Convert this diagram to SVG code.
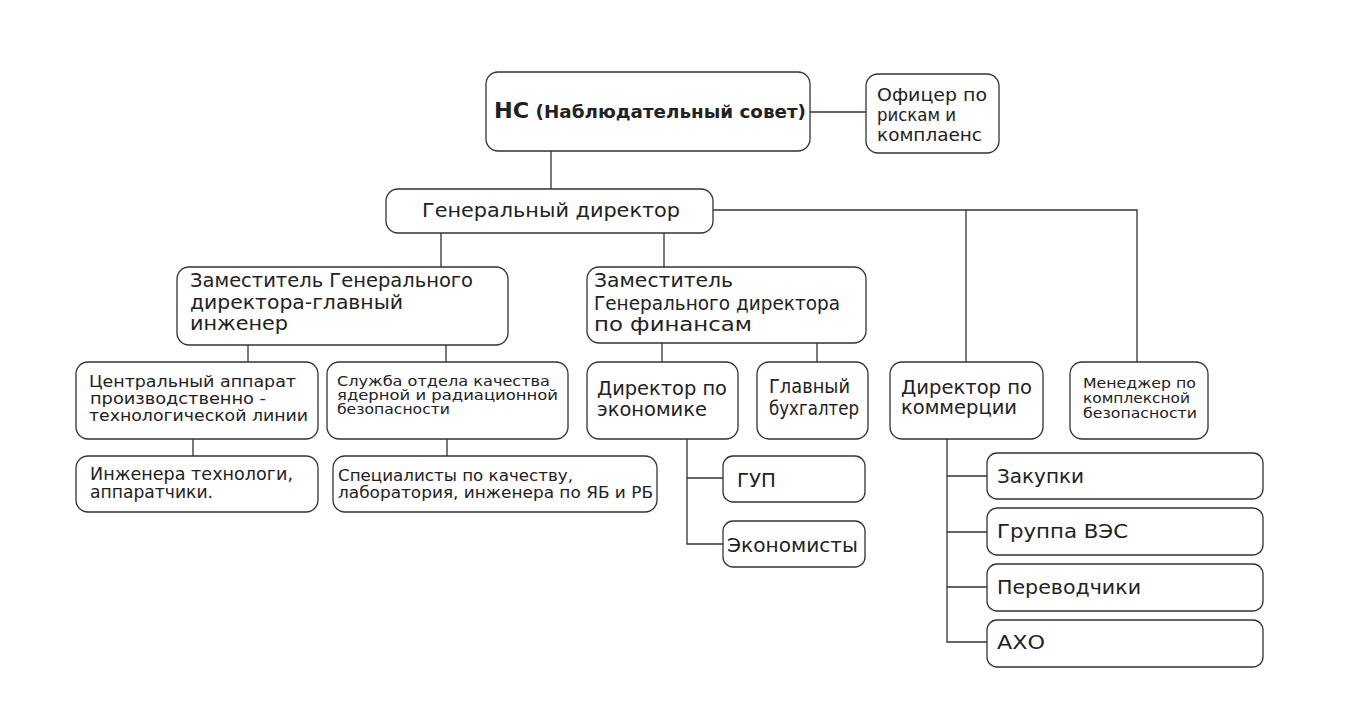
<svg xmlns="http://www.w3.org/2000/svg" width="1372" height="722" viewBox="0 0 1372 722">
<style>
.box{fill:#fff;stroke:#333;stroke-width:1.3}
.ln{fill:none;stroke:#333;stroke-width:1.3}
text{font-family:"DejaVu Sans","Liberation Sans",sans-serif;fill:#222}
.s19{font-size:19px}
.s17{font-size:17px}
.s16{font-size:16px}
.s15{font-size:15px}
.s14{font-size:14px}
.s13{font-size:13.5px}
.s20{font-size:20px}
</style>
<rect width="1372" height="722" fill="#fff"/>
<g id="connectors">
<path class="ln" d="M810 112H866"/>
<path class="ln" d="M551 151V189"/>
<path class="ln" d="M713 210H1137V362M966 210V362"/>
<path class="ln" d="M441 233V267M664 233V267"/>
<path class="ln" d="M248 345V362M446 345V362"/>
<path class="ln" d="M193 439V456M447 439V456"/>
<path class="ln" d="M662 343V362M817 343V362"/>
<path class="ln" d="M687 439V544H723M687 478H723"/>
<path class="ln" d="M947 439V642H987M947 476H987M947 532H987M947 587H987"/>
</g>
<g id="hc">
<rect class="box" x="486" y="72" width="324" height="79" rx="12"/>
<text x="494" y="118" font-weight="bold" textLength="312" lengthAdjust="spacingAndGlyphs"><tspan font-size="22">НС</tspan><tspan font-size="18"> (Наблюдательный совет)</tspan></text>
</g>
<g id="officer">
<rect class="box" x="866" y="74" width="133" height="79" rx="12"/>
<text class="s17" x="877" y="101" textLength="110" lengthAdjust="spacingAndGlyphs">Офицер по</text>
<text class="s17" x="877" y="121" textLength="79" lengthAdjust="spacingAndGlyphs">рискам и</text>
<text class="s17" x="877" y="141" textLength="105" lengthAdjust="spacingAndGlyphs">комплаенс</text>
</g>
<g id="gd">
<rect class="box" x="386" y="189" width="327" height="44" rx="12"/>
<text class="s20" x="422" y="217" textLength="258" lengthAdjust="spacingAndGlyphs">Генеральный директор</text>
</g>
<g id="zam-inzh">
<rect class="box" x="177" y="267" width="331" height="78" rx="12"/>
<text class="s19" x="190" y="287" textLength="283" lengthAdjust="spacingAndGlyphs">Заместитель Генерального</text>
<text class="s19" x="190" y="309" textLength="213" lengthAdjust="spacingAndGlyphs">директора-главный</text>
<text class="s19" x="190" y="330" textLength="98" lengthAdjust="spacingAndGlyphs">инженер</text>
</g>
<g id="zam-fin">
<rect class="box" x="587" y="267" width="279" height="76" rx="12"/>
<text class="s19" x="594" y="287" textLength="139" lengthAdjust="spacingAndGlyphs">Заместитель</text>
<text class="s19" x="594" y="310" textLength="246" lengthAdjust="spacingAndGlyphs">Генерального директора</text>
<text class="s19" x="594" y="331" textLength="158" lengthAdjust="spacingAndGlyphs">по финансам</text>
</g>
<g id="central">
<rect class="box" x="76" y="362" width="242" height="77" rx="12"/>
<text class="s16" x="89" y="387" textLength="207" lengthAdjust="spacingAndGlyphs">Центральный аппарат</text>
<text class="s16" x="90" y="404" textLength="176" lengthAdjust="spacingAndGlyphs">производственно -</text>
<text class="s16" x="89" y="421" textLength="219" lengthAdjust="spacingAndGlyphs">технологической линии</text>
</g>
<g id="sluzhba">
<rect class="box" x="327" y="362" width="241" height="77" rx="12"/>
<text class="s13" x="337" y="386" textLength="213" lengthAdjust="spacingAndGlyphs">Служба отдела качества</text>
<text class="s13" x="337" y="400" textLength="221" lengthAdjust="spacingAndGlyphs">ядерной и радиационной</text>
<text class="s13" x="337" y="414" textLength="113" lengthAdjust="spacingAndGlyphs">безопасности</text>
</g>
<g id="inzhenera">
<rect class="box" x="76" y="456" width="242" height="56" rx="12"/>
<text class="s17" x="90" y="480" textLength="203" lengthAdjust="spacingAndGlyphs">Инженера технологи,</text>
<text class="s17" x="90" y="498" textLength="123" lengthAdjust="spacingAndGlyphs">аппаратчики.</text>
</g>
<g id="specialisty">
<rect class="box" x="333" y="456" width="324" height="56" rx="12"/>
<text class="s15" x="338" y="481" textLength="235" lengthAdjust="spacingAndGlyphs">Специалисты по качеству,</text>
<text class="s15" x="338" y="498" textLength="315" lengthAdjust="spacingAndGlyphs">лаборатория, инженера по ЯБ и РБ</text>
</g>
<g id="dir-econ">
<rect class="box" x="587" y="362" width="151" height="77" rx="12"/>
<text class="s19" x="597" y="395" textLength="130" lengthAdjust="spacingAndGlyphs">Директор по</text>
<text class="s19" x="597" y="416" textLength="110" lengthAdjust="spacingAndGlyphs">экономике</text>
</g>
<g id="glav-buh">
<rect class="box" x="757" y="362" width="111" height="77" rx="12"/>
<text class="s19" x="769" y="393" textLength="81" lengthAdjust="spacingAndGlyphs">Главный</text>
<text class="s19" x="769" y="415" textLength="90" lengthAdjust="spacingAndGlyphs">бухгалтер</text>
</g>
<g id="gup">
<rect class="box" x="723" y="456" width="142" height="46" rx="10"/>
<text class="s19" x="737" y="487" textLength="39" lengthAdjust="spacingAndGlyphs">ГУП</text>
</g>
<g id="economisty">
<rect class="box" x="723" y="521" width="142" height="46" rx="10"/>
<text class="s19" x="727" y="552" textLength="131" lengthAdjust="spacingAndGlyphs">Экономисты</text>
</g>
<g id="dir-kom">
<rect class="box" x="890" y="362" width="153" height="77" rx="12"/>
<text class="s19" x="901" y="394" textLength="131" lengthAdjust="spacingAndGlyphs">Директор по</text>
<text class="s19" x="901" y="414" textLength="116" lengthAdjust="spacingAndGlyphs">коммерции</text>
</g>
<g id="menedzher">
<rect class="box" x="1070" y="362" width="138" height="77" rx="12"/>
<text class="s14" x="1083" y="388" textLength="113" lengthAdjust="spacingAndGlyphs">Менеджер по</text>
<text class="s14" x="1083" y="403" textLength="107" lengthAdjust="spacingAndGlyphs">комплексной</text>
<text class="s14" x="1083" y="418" textLength="114" lengthAdjust="spacingAndGlyphs">безопасности</text>
</g>
<g id="zakupki">
<rect class="box" x="987" y="453" width="276" height="46" rx="10"/>
<text class="s19" x="997" y="483" textLength="87" lengthAdjust="spacingAndGlyphs">Закупки</text>
</g>
<g id="ves">
<rect class="box" x="987" y="508" width="276" height="47" rx="10"/>
<text class="s19" x="997" y="538" textLength="131" lengthAdjust="spacingAndGlyphs">Группа ВЭС</text>
</g>
<g id="perevodchiki">
<rect class="box" x="987" y="564" width="276" height="47" rx="10"/>
<text class="s19" x="997" y="594" textLength="144" lengthAdjust="spacingAndGlyphs">Переводчики</text>
</g>
<g id="aho">
<rect class="box" x="987" y="620" width="276" height="47" rx="10"/>
<text class="s19" x="997" y="649" textLength="48" lengthAdjust="spacingAndGlyphs">АХО</text>
</g>
</svg>
